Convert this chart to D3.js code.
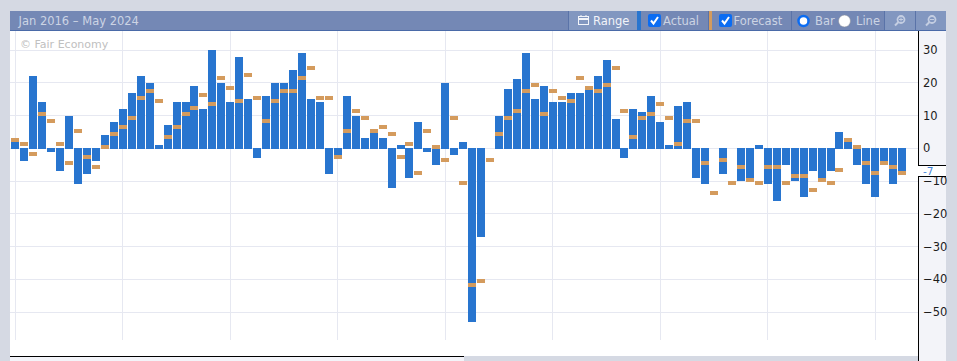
<!DOCTYPE html>
<html>
<head>
<meta charset="utf-8">
<script src="https://cdn.jsdelivr.net/npm/d3@7"></script>
<style>
  html, body { margin: 0; padding: 0; background: #d5d9e3; overflow: hidden; }
  svg { display: block; font-family: "DejaVu Sans", sans-serif; }
</style>
</head>
<body>
<svg id="chart" width="957" height="361"></svg>
<script>
// one entry per month, Jan 2016 to Apr 2024 (null = no bar drawn)
var actual = [
  2, -4, 22, 14, -1, -7, 10, -11, -8, -4, 4, 8,
  12, 17, 22, 20, 1, 7, 14, 14, 19, 12, 30, 20,
  14, 28, 15, -3, 16, 20, 20, 24, 29, 15, 14, -8,
  -2, 16, 10, 3, 5, 3, -12, 1, -9, 8, -1, -5,
  20, -2, 2, -53, -27, null, 10, 18, 21, 29, 15, 19,
  14, 14, 17, 17, 18, 22, 27, 9, -3, 12, 11, 16,
  8, 1, 13, 14, -9, -11, null, -8, null, -10, -10, 1,
  -11, -16, -5, -10, -15, -7, -9, -7, 5, 2, -5, -11,
  -15, -5, -11, -7
];
var forecast = [
  3, 2, -1, 11, 9, 2, -4, 6, -2, -5, 1, 5,
  7, 10, 16, 18, 15, 4, 7, 11, 13, 17, 14, 22,
  19, 15, 23, 16, 9, 15, 18, 18, 22, 25, 16, 16,
  -2, 6, 12, 10, 6, 7, 5, -2, 2, -7, 6, 1,
  -3, 10, -10, -41, -40, -3, 5, 10, 12, 18, 20, 11,
  18, 16, 15, 22, 19, 18, 20, 25, 12, 4, 10, 11,
  14, 10, 2, 9, 9, -4, -13, -3, -10, -5, -9, -10,
  -5, -5, -10, -8, -8, -12, -9, -10, -6, 3, 1, -4,
  -7, -4, -5, -7
];
var yearLabels = ["2016", "2017", "2018", "2019", "2020", "2021", "2022", "2023", "2024"];
var yTickValues = [30, 20, 10, 0, -10, -20, -30, -40, -50];
var latestValue = -7;

var svg = d3.select("#chart");

var plotLeft = 10, plotRight = 918, plotTop = 31, plotBottom = 356;

var x = d3.scaleLinear().domain([0, 96]).range([15.3, 875.3]);
var y = d3.scaleLinear().domain([30, -50]).range([50, 312]);

function crisp(v) {
  return Math.floor(v) + 0.5;
}

// backgrounds
svg.append("rect")
  .attr("x", plotLeft).attr("y", plotTop)
  .attr("width", plotRight - plotLeft).attr("height", plotBottom - plotTop)
  .attr("fill", "white");

svg.append("rect")
  .attr("x", plotRight).attr("y", plotTop)
  .attr("width", 28).attr("height", 361 - plotTop)
  .attr("fill", "#f3f4f9");

svg.append("rect")
  .attr("x", plotLeft).attr("y", plotBottom)
  .attr("width", 454).attr("height", 5)
  .attr("fill", "#f3f4f9");

// grid
var grid = svg.append("g").attr("shape-rendering", "crispEdges");
grid.selectAll("line.h")
  .data(yTickValues)
  .enter()
  .append("line")
  .attr("class", "h")
  .attr("x1", plotLeft).attr("x2", plotRight)
  .attr("y1", function (d) { return crisp(y(d)); })
  .attr("y2", function (d) { return crisp(y(d)); })
  .attr("stroke", "#e6e8f1");
grid.selectAll("line.v")
  .data(yearLabels)
  .enter()
  .append("line")
  .attr("class", "v")
  .attr("y1", plotTop).attr("y2", 340)
  .attr("x1", function (d, i) { return crisp(x(i * 12)); })
  .attr("x2", function (d, i) { return crisp(x(i * 12)); })
  .attr("stroke", "#e6e8f1");

// actual bars, months without a value get no height
var bars = svg.append("g").attr("shape-rendering", "crispEdges");
bars.selectAll("rect")
  .data(actual)
  .enter()
  .append("rect")
  .attr("x", function (d, i) { return Math.round(x(i)) - 4; })
  .attr("y", function (d) { return d > 0 ? y(d) : 148; })
  .attr("width", 8)
  .attr("height", function (d) {
    if (d === null) return 0;
    return d > 0 ? 149 - y(d) : y(d) - 148;
  })
  .attr("fill", "#2875cf");

// forecast markers
var marks = svg.append("g").attr("shape-rendering", "crispEdges");
marks.selectAll("rect")
  .data(forecast)
  .enter()
  .append("rect")
  .attr("x", function (d, i) { return Math.round(x(i)) - 4; })
  .attr("y", function (d) { return Math.round(y(d)); })
  .attr("width", 8)
  .attr("height", 4)
  .attr("fill", "#d49b5d");

svg.append("text")
  .attr("x", 20).attr("y", 48)
  .attr("font-size", 11)
  .attr("fill", "#c0c0c0")
  .text("© Fair Economy");

// x axis labels, clipped by the left edge of the plot
svg.append("clipPath").attr("id", "xclip")
  .append("rect")
  .attr("x", plotLeft).attr("y", plotTop)
  .attr("width", plotRight - plotLeft).attr("height", 361 - plotTop);

var xAxis = svg.append("g")
  .attr("clip-path", "url(#xclip)")
  .attr("transform", "translate(0,340)")
  .call(d3.axisBottom(x)
    .tickValues(yearLabels.map(function (d, i) { return i * 12; }))
    .tickSize(0)
    .tickPadding(5)
    .tickFormat(function (d) { return yearLabels[d / 12]; }));
xAxis.select(".domain").remove();
xAxis.selectAll("text")
  .attr("font-size", 10.67)
  .attr("font-family", "DejaVu Sans")
  .attr("fill", "#1c1c1c");

// y axis labels
var yAxis = svg.append("g")
  .attr("transform", "translate(" + 923 + ",0)")
  .call(d3.axisRight(y).tickValues(yTickValues).tickSize(0).tickPadding(0));
yAxis.select(".domain").remove();
yAxis.selectAll("text")
  .attr("font-size", 11.5)
  .attr("font-family", "DejaVu Sans")
  .attr("fill", "#1c1c1c");

// axis frame, broken around the latest value label
var frame = svg.append("g").attr("shape-rendering", "crispEdges");
frame.append("rect")
  .attr("x", plotRight).attr("y", 165)
  .attr("width", 28).attr("height", 11)
  .attr("fill", "white");
frame.append("line")
  .attr("x1", plotRight + 0.5).attr("x2", plotRight + 0.5)
  .attr("y1", plotTop).attr("y2", 165)
  .attr("stroke", "black");
frame.append("line")
  .attr("x1", plotRight + 0.5).attr("x2", plotRight + 0.5)
  .attr("y1", 176).attr("y2", 361)
  .attr("stroke", "black");
frame.append("line")
  .attr("x1", plotRight).attr("x2", 946)
  .attr("y1", 165.5).attr("y2", 165.5)
  .attr("stroke", "black");
frame.append("line")
  .attr("x1", plotRight).attr("x2", 946)
  .attr("y1", 176.5).attr("y2", 176.5)
  .attr("stroke", "black");
frame.append("line")
  .attr("x1", plotLeft).attr("x2", 464)
  .attr("y1", plotBottom + 0.5).attr("y2", plotBottom + 0.5)
  .attr("stroke", "black");

svg.append("text")
  .attr("x", 923).attr("y", 174.5)
  .attr("font-size", 10.5)
  .attr("fill", "#3f83d8")
  .text(latestValue);

// toolbar
var bar = svg.append("g").attr("shape-rendering", "crispEdges");
bar.append("rect")
  .attr("x", plotLeft).attr("y", 11)
  .attr("width", 936).attr("height", 19)
  .attr("fill", "#7488b5");
bar.append("rect")
  .attr("x", plotLeft).attr("y", 30)
  .attr("width", 936).attr("height", 1)
  .attr("fill", "#4a6aa8");

// lighter buttons
var lightButtons = [[569, 68], [884, 31], [916, 30]];
bar.selectAll("rect.btn")
  .data(lightButtons)
  .enter()
  .append("rect")
  .attr("class", "btn")
  .attr("x", function (d) { return d[0]; })
  .attr("y", 11)
  .attr("width", function (d) { return d[1]; })
  .attr("height", 19)
  .attr("fill", "#8297c0");

// separators
var separators = [568, 708, 791, 884, 915];
bar.selectAll("rect.sep")
  .data(separators)
  .enter()
  .append("rect")
  .attr("class", "sep")
  .attr("x", function (d) { return d; })
  .attr("y", 11)
  .attr("width", 1)
  .attr("height", 19)
  .attr("fill", "#5a73a8");

bar.append("rect").attr("x", 637).attr("y", 11).attr("width", 4).attr("height", 19).attr("fill", "#2875cf");
bar.append("rect").attr("x", 709).attr("y", 11).attr("width", 3).attr("height", 19).attr("fill", "#d49b5d");

function toolbarText(px, label, fill) {
  svg.append("text")
    .attr("x", px).attr("y", 25)
    .attr("font-size", 11.5)
    .attr("fill", fill)
    .text(label);
}
toolbarText(18.5, "Jan 2016 – May 2024", "#ccd4e4");
toolbarText(593, "Range", "#f2f4f9");
toolbarText(663, "Actual", "#ccd4e4");
toolbarText(733.5, "Forecast", "#ccd4e4");
toolbarText(815, "Bar", "#ccd4e4");
toolbarText(856, "Line", "#ccd4e4");

// calendar icon
var cal = svg.append("g").attr("fill", "none").attr("stroke", "#f2f4f9");
cal.append("rect").attr("x", 578.5).attr("y", 16.5).attr("width", 10).attr("height", 8);
cal.append("line").attr("x1", 578).attr("x2", 589).attr("y1", 19).attr("y2", 19).attr("stroke-width", 2);
cal.append("line").attr("x1", 581).attr("x2", 581).attr("y1", 15).attr("y2", 17);
cal.append("line").attr("x1", 586).attr("x2", 586).attr("y1", 15).attr("y2", 17);

// checkboxes
[[648, "Actual"], [719, "Forecast"]].forEach(function (c) {
  svg.append("rect")
    .attr("x", c[0]).attr("y", 14)
    .attr("width", 13).attr("height", 13)
    .attr("rx", 2)
    .attr("fill", "#0b6cf2");
  svg.append("path")
    .attr("d", "M" + (c[0] + 3) + ",20.5 L" + (c[0] + 5.5) + ",23.5 L" + (c[0] + 10) + ",17")
    .attr("fill", "none")
    .attr("stroke", "white")
    .attr("stroke-width", 2);
});

// radios
svg.append("circle").attr("cx", 803.5).attr("cy", 21).attr("r", 5)
  .attr("fill", "white").attr("stroke", "#0b6cf2").attr("stroke-width", 2.5);
svg.append("circle").attr("cx", 844.5).attr("cy", 21).attr("r", 6)
  .attr("fill", "white").attr("stroke", "#8a8f9c").attr("stroke-width", 0.6);

// zoom icons
[[900, true], [931, false]].forEach(function (z) {
  var g = svg.append("g").attr("fill", "none").attr("stroke", "#c4cee2");
  g.append("circle").attr("cx", z[0] + 1).attr("cy", 19.5).attr("r", 3.5).attr("stroke-width", 1.8);
  g.append("line")
    .attr("x1", z[0] - 1.5).attr("y1", 22)
    .attr("x2", z[0] - 5).attr("y2", 25.5)
    .attr("stroke-width", 2);
  if (z[1]) {
    g.append("line").attr("x1", z[0] + 1).attr("x2", z[0] + 1).attr("y1", 17.5).attr("y2", 21.5);
  }
  g.append("line").attr("x1", z[0] - 1).attr("x2", z[0] + 3).attr("y1", 19.5).attr("y2", 19.5);
});
</script>
</body>
</html>
